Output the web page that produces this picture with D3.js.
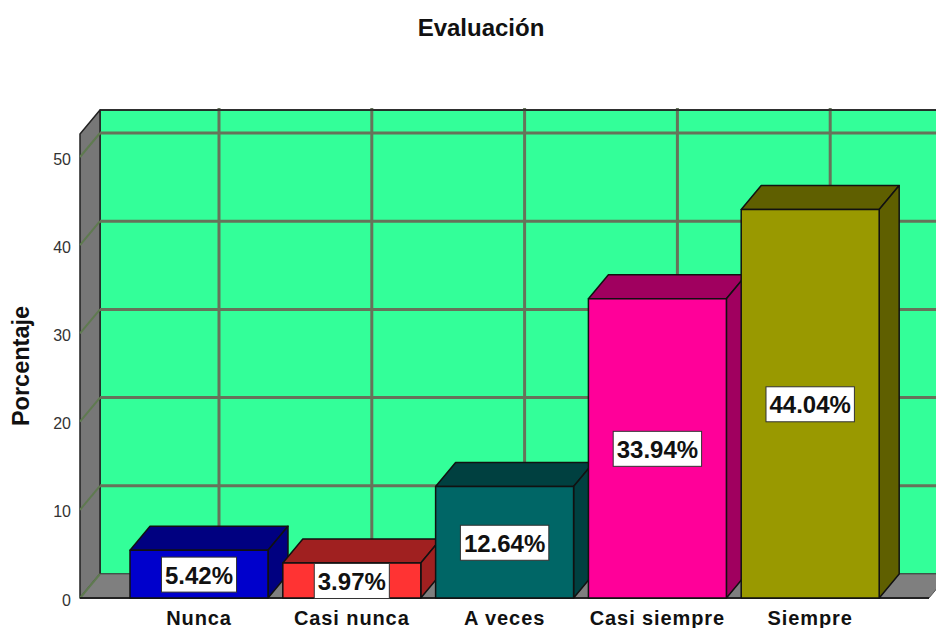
<!DOCTYPE html>
<html>
<head>
<meta charset="utf-8">
<script src="https://cdn.jsdelivr.net/npm/d3@7"></script>
<style>
	html, body { margin: 0; padding: 0; background: #fff; overflow: hidden; }
	text { font-family: "Liberation Sans", Arial, sans-serif; fill: #111; }
</style>
</head>
<body>
<div id="chart"></div>
<script>
var categories = ['Nunca', 'Casi nunca', 'A veces', 'Casi siempre', 'Siempre'];
var values = [5.42, 3.97, 12.64, 33.94, 44.04];
var value_labels = ['5.42%', '3.97%', '12.64%', '33.94%', '44.04%'];
var y_ticks = [0, 10, 20, 30, 40, 50];
var front_colors = ['#0000cc', '#ff3333', '#006666', '#ff0099', '#999900'];
var dark_colors = ['#000080', '#a02020', '#004040', '#a0005f', '#5f5f00'];

var width = 936;
var height = 628;
var depth_x = 20;
var depth_y = 24;
var floor_y = 598;
var wall_x = 80;
var right_x = 929;
var top_value = 52.6;

var svg = d3.select('#chart')
	.append('svg')
	.attr('width', width)
	.attr('height', height)
	.style('display', 'block');

// Create scales
var x_scale = d3.scaleBand()
	.domain(categories)
	.range([122.6, 886.6])
	.paddingInner(0.097)
	.paddingOuter(0.0485);
var y_scale = d3.scaleLinear()
	.domain([0, 50])
	.range([floor_y, floor_y - 441]);

var top_y = y_scale(top_value);

function poly(points, fill, stroke, sw) {
	return svg.append('polygon')
		.attr('points', points.map(function (p) { return p.join(','); }).join(' '))
		.attr('fill', fill)
		.attr('stroke', stroke)
		.attr('stroke-width', sw)
		.attr('stroke-linejoin', 'round');
}

// Walls
poly([[wall_x + depth_x, top_y - depth_y], [right_x + depth_x, top_y - depth_y], [right_x + depth_x, floor_y - depth_y], [wall_x + depth_x, floor_y - depth_y]], '#33ff99', '#222', 1.5);
poly([[wall_x, top_y], [wall_x + depth_x, top_y - depth_y], [wall_x + depth_x, floor_y - depth_y], [wall_x, floor_y]], '#777777', '#222', 1.5);
poly([[wall_x, floor_y], [wall_x + depth_x, floor_y - depth_y], [right_x + depth_x, floor_y - depth_y], [right_x, floor_y]], '#7f7f7f', '#555', 1);

// Gridlines
svg.selectAll('line.grid-v')
	.data(categories)
	.enter()
	.append('line')
	.attr('class', 'grid-v')
	.attr('x1', function (d) { return x_scale(d) + x_scale.bandwidth() / 2 + depth_x; })
	.attr('x2', function (d) { return x_scale(d) + x_scale.bandwidth() / 2 + depth_x; })
	.attr('y1', top_y - depth_y - 2)
	.attr('y2', floor_y - depth_y)
	.attr('stroke', '#66735a')
	.attr('stroke-width', 3);
svg.selectAll('line.grid-h')
	.data(y_ticks.slice(1))
	.enter()
	.append('line')
	.attr('class', 'grid-h')
	.attr('x1', wall_x + depth_x)
	.attr('x2', width)
	.attr('y1', function (d) { return y_scale(d) - depth_y; })
	.attr('y2', function (d) { return y_scale(d) - depth_y; })
	.attr('stroke', '#66735a')
	.attr('stroke-width', 3);
svg.selectAll('line.grid-d')
	.data(y_ticks.slice(0))
	.enter()
	.append('line')
	.attr('class', 'grid-d')
	.attr('x1', wall_x)
	.attr('x2', wall_x + depth_x)
	.attr('y1', function (d) { return y_scale(d); })
	.attr('y2', function (d) { return y_scale(d) - depth_y; })
	.attr('stroke', '#5f7a50')
	.attr('stroke-width', 2);

// Redraw edges over the gridlines
svg.append('line').attr('x1', wall_x + depth_x).attr('x2', width).attr('y1', top_y - depth_y).attr('y2', top_y - depth_y).attr('stroke', '#222').attr('stroke-width', 1.5);
svg.append('line').attr('x1', wall_x).attr('x2', right_x).attr('y1', floor_y).attr('y2', floor_y).attr('stroke', '#222').attr('stroke-width', 2);

// Create bars
categories.forEach(function (cat, i) {
	var x0 = x_scale(cat);
	var x1 = x0 + x_scale.bandwidth();
	var y1 = y_scale(values[i]);
	poly([[x0, y1], [x0 + depth_x, y1 - depth_y], [x1 + depth_x, y1 - depth_y], [x1, y1]], dark_colors[i], '#111', 1.5);
	poly([[x1, y1], [x1 + depth_x, y1 - depth_y], [x1 + depth_x, floor_y - depth_y], [x1, floor_y]], dark_colors[i], '#111', 1.5);
	poly([[x0, y1], [x1, y1], [x1, floor_y], [x0, floor_y]], front_colors[i], '#111', 1.5);
});

// Value labels
categories.forEach(function (cat, i) {
	var cx = x_scale(cat) + x_scale.bandwidth() / 2;
	var cy = (y_scale(values[i]) + floor_y) / 2;
	var box = svg.append('rect');
	var label = svg.append('text')
		.attr('x', cx)
		.attr('y', cy + 1)
		.attr('dy', '0.36em')
		.attr('text-anchor', 'middle')
		.attr('font-size', 24)
		.attr('font-weight', 'bold')
		.text(value_labels[i]);
	var w = label.node().getComputedTextLength() + 7;
	box.attr('x', cx - w / 2)
		.attr('y', cy - 17)
		.attr('width', w)
		.attr('height', 35)
		.attr('fill', '#fff')
		.attr('stroke', '#333')
		.attr('stroke-width', 1);
});

// Axes
var y_axis = d3.axisLeft(y_scale).tickValues(y_ticks).tickSize(0).tickPadding(9);
var y_group = svg.append('g').attr('transform', 'translate(' + wall_x + ',2)').call(y_axis);
y_group.select('.domain').remove();
y_group.selectAll('text').attr('font-size', 16).style('font-family', '"Liberation Sans", Arial, sans-serif').style('fill', '#333');

var x_axis = d3.axisBottom(x_scale).tickSize(0).tickPadding(13);
var x_group = svg.append('g').attr('transform', 'translate(0,' + floor_y + ')').call(x_axis);
x_group.select('.domain').remove();
x_group.selectAll('text')
	.attr('font-size', 20)
	.attr('font-weight', 'bold')
	.attr('letter-spacing', 0.9)
	.style('font-family', '"Liberation Sans", Arial, sans-serif');

// Titles
svg.append('text')
	.attr('x', 481)
	.attr('y', 36)
	.attr('text-anchor', 'middle')
	.attr('font-size', 24)
	.attr('font-weight', 'bold')
	.text('Evaluación');
svg.append('text')
	.attr('transform', 'translate(29,366) rotate(-90)')
	.attr('text-anchor', 'middle')
	.attr('font-size', 23.5)
	.attr('font-weight', 'bold')
	.text('Porcentaje');
</script>
</body>
</html>
